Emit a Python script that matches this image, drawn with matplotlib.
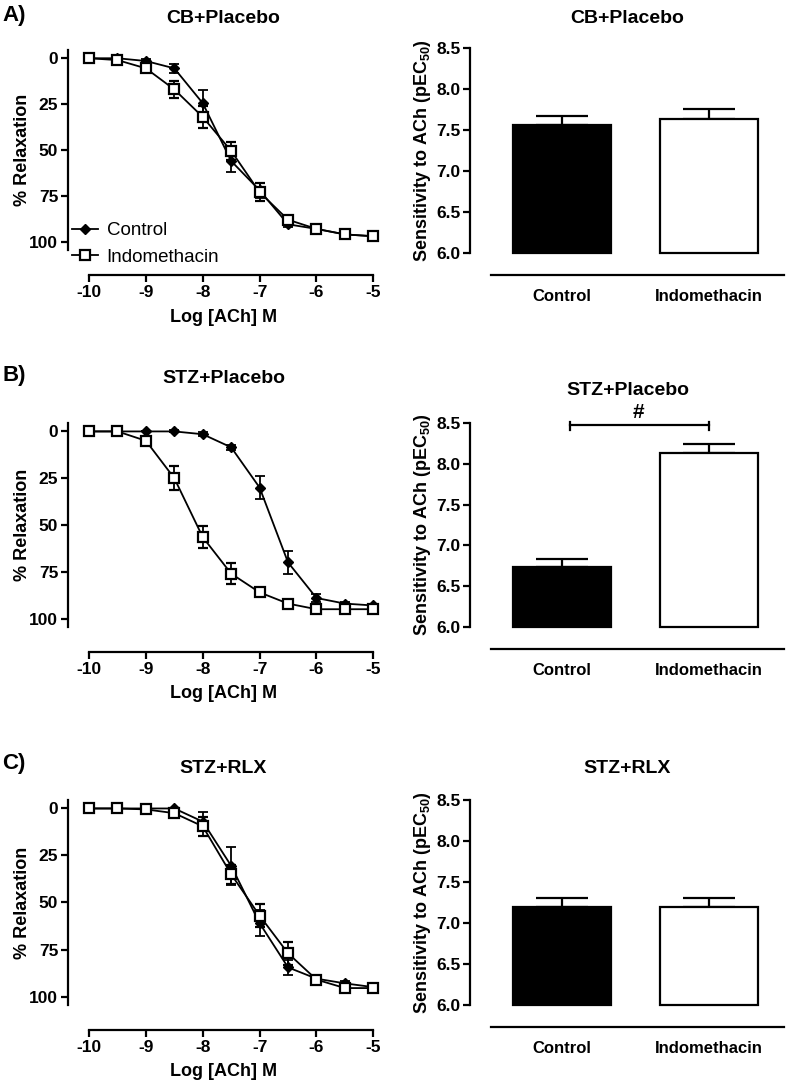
import matplotlib
matplotlib.use("Agg")
import matplotlib.pyplot as plt
from matplotlib.lines import Line2D

plt.rcParams['font.family'] = ['Liberation Sans', 'DejaVu Sans']
plt.rcParams['mathtext.fontset'] = 'custom'
plt.rcParams['mathtext.rm'] = 'Liberation Sans:bold'
plt.rcParams['mathtext.bf'] = 'Liberation Sans:bold'

# ---------------- data ----------------
log_ach = [-10, -9.5, -9, -8.5, -8, -7.5, -7, -6.5, -6, -5.5, -5]

panel_labels = ["A)", "B)", "C)"]
titles = ["CB+Placebo", "STZ+Placebo", "STZ+RLX"]

# Concentration-response (% relaxation)
a_ctrl = [0, 0, 1.5, 5.5, 24.5, 56, 72, 90.5, 93, 96, 97]
a_ctrl_err = [0, 0, 1, 2.5, 7, 6, 4, 1.5, 1, 1, 1]
a_indo = [0, 1, 5.5, 17, 32, 50.5, 73, 88, 93, 96, 97]
a_indo_err = [0, 0, 2, 4.5, 6, 5, 5, 2, 1, 1, 1]

b_ctrl = [0, 0, 0, 0, 1.5, 8.5, 30, 70, 89, 92, 93]
b_ctrl_err = [0, 0, 0, 0.5, 1, 1.5, 6, 6, 2, 1, 1]
b_indo = [0, 0, 5, 25, 56.5, 76, 86, 92, 95, 95, 95]
b_indo_err = [0, 0, 1.5, 6.5, 6, 5.5, 1.5, 1, 1, 1, 1]

c_ctrl = [0, 0, 0, 0, 7, 30.5, 61, 84.5, 90.5, 93, 95]
c_ctrl_err = [0, 0, 0, 0.5, 5, 10, 7, 4, 1.5, 1, 1]
c_indo = [0, 0, 0.5, 2.5, 9.5, 35, 57, 77, 91, 95.5, 95.5]
c_indo_err = [0, 0, 1, 1, 5, 5, 6, 6, 1.5, 1, 1]

curves = [(a_ctrl, a_ctrl_err, a_indo, a_indo_err),
          (b_ctrl, b_ctrl_err, b_indo, b_indo_err),
          (c_ctrl, c_ctrl_err, c_indo, c_indo_err)]

# pEC50 bars
groups = ["Control", "Indomethacin"]
pec50_a = [7.56, 7.63]
pec50_a_err = [0.11, 0.13]
pec50_b = [6.74, 8.13]
pec50_b_err = [0.09, 0.11]
pec50_c = [7.19, 7.19]
pec50_c_err = [0.12, 0.12]
bars = [(pec50_a, pec50_a_err), (pec50_b, pec50_b_err), (pec50_c, pec50_c_err)]
bar_base = 6.0

yticks_curve = [0, 25, 50, 75, 100]
yticks_bar = [6.0, 6.5, 7.0, 7.5, 8.0, 8.5]

# ---------------- layout (pixels) ----------------
W, H = 787, 1081
fig = plt.figure(figsize=(W / 100, H / 100), dpi=100)


def rect(x0, x1, y0, y1):
    return [x0 / W, 1 - y1 / H, (x1 - x0) / W, (y1 - y0) / H]


LX0, LX1 = 68, 379
RX0, RX1 = 470, 785
left_y = [(50, 250), (423, 627), (800, 1005)]
right_y = [(48, 253), (423, 627), (800, 1005)]
left_title_y = [15, 375, 765]
right_title_y = [15, 387, 765]
panel_label_y = [15, 375, 763]

TICKFS = 12.5
LABFS = 13
LW = 1.6

for i in range(3):
    # ---------- curve panel ----------
    ax = fig.add_axes(rect(LX0, LX1, *left_y[i]))
    ah = left_y[i][1] - left_y[i][0]
    ctrl, ctrl_e, indo, indo_e = curves[i]
    ax.errorbar(log_ach, indo, yerr=indo_e, color='black', lw=1.3, marker='s',
                ms=6.5, mfc='white', mec='black', mew=1.6, capsize=3.5, elinewidth=1.3,
                capthick=1.3, zorder=3, label='Indomethacin')
    ax.errorbar(log_ach, ctrl, yerr=ctrl_e, color='black', lw=1.3, marker='D',
                ms=5, mfc='black', mec='black', capsize=3.5, elinewidth=1.3,
                capthick=1.3, zorder=2, label='Control')
    ax.set_xlim(-10.37, -4.9)
    ax.set_ylim(104.5, -4.5)
    ax.set_yticks(yticks_curve)
    ax.set_xticks([-10, -9, -8, -7, -6, -5])
    ax.set_xticklabels(['-10', '-9', '-8', '-7', '-6', '-5'])
    for s in ['top', 'right']:
        ax.spines[s].set_visible(False)
    ax.spines['left'].set_linewidth(LW)
    ax.spines['bottom'].set_linewidth(LW)
    ax.spines['bottom'].set_position(('outward', 18))
    ax.spines['bottom'].set_bounds(-10, -5)
    ax.tick_params(width=LW, length=5, labelsize=TICKFS, pad=2)
    for lab in ax.get_xticklabels() + ax.get_yticklabels():
        lab.set_fontweight('bold')
    ax.set_xlabel('Log [ACh] M', fontsize=LABFS, fontweight='bold')
    ax.xaxis.set_label_coords(0.5, -67 / ah)
    ax.xaxis.label.set_va('center')
    ax.set_ylabel('% Relaxation', fontsize=LABFS, fontweight='bold')
    ax.yaxis.set_label_coords(-(LX0 - 23) / (LX1 - LX0), 0.5)
    ax.yaxis.label.set_va('center')
    ax.set_title(titles[i], fontsize=14, fontweight='bold', pad=0,
                 y=1 + (left_y[i][0] - left_title_y[i] - 8) / ah)
    fig.text(2 / W, 1 - panel_label_y[i] / H, panel_labels[i], fontsize=16,
             fontweight='bold', va='center', ha='left')
    if i == 0:
        h_c = Line2D([], [], color='black', lw=1.3, marker='D', ms=5, mfc='black')
        h_i = Line2D([], [], color='black', lw=1.3, marker='s', ms=6.5, mfc='white', mew=1.6)
        ax.legend([h_c, h_i], ['Control', 'Indomethacin'], loc='upper left',
                  bbox_to_anchor=((72 - LX0) / (LX1 - LX0), (250 - 222) / ah),
                  frameon=False, fontsize=13.5,
                  handlelength=1.4, handletextpad=0.45, labelspacing=0.5,
                  borderpad=0, borderaxespad=0)

    # ---------- bar panel ----------
    bx = fig.add_axes(rect(RX0, RX1, *right_y[i]))
    bh = right_y[i][1] - right_y[i][0]
    vals, errs = bars[i]
    xs = list(range(len(groups)))
    bx.bar(xs, [v - bar_base for v in vals], width=0.67, bottom=bar_base,
           color=['black', 'white'], edgecolor='black', linewidth=LW, zorder=2,
           clip_on=False)
    bx.errorbar(xs, vals, yerr=[[0] * len(errs), errs], fmt='none', ecolor='black',
                elinewidth=LW, capsize=19, capthick=LW, zorder=1)
    bx.set_ylim(6.0, 8.5)
    bx.set_xlim(-0.63, 1.52)
    bx.set_yticks(yticks_bar)
    bx.set_yticklabels([f'{t:.1f}' for t in yticks_bar])
    bx.set_xticks(xs)
    bx.set_xticklabels(groups)
    for s in ['top', 'right']:
        bx.spines[s].set_visible(False)
    bx.spines['left'].set_linewidth(LW)
    bx.spines['bottom'].set_linewidth(LW)
    bx.spines['bottom'].set_position(('outward', 16))
    bx.spines['bottom'].set_bounds(-0.49, 1.51)
    bx.tick_params(axis='y', width=LW, length=5, labelsize=TICKFS, pad=2)
    bx.tick_params(axis='x', length=0, labelsize=12, pad=10)
    for lab in bx.get_yticklabels() + bx.get_xticklabels():
        lab.set_fontweight('bold')
    bx.set_ylabel('Sensitivity to ACh (pEC$_{50}$)', fontsize=LABFS, fontweight='bold')
    bx.yaxis.set_label_coords(-(RX0 - 423) / (RX1 - RX0), 0.5)
    bx.yaxis.label.set_va('center')
    bx.set_title(titles[i], fontsize=14, fontweight='bold', pad=0,
                 y=1 + (right_y[i][0] - right_title_y[i] - 8) / bh)
    if i == 1:
        yb = 8.47
        bx.plot([0.05, 1.0], [yb, yb], color='black', lw=LW, clip_on=False)
        bx.plot([0.05, 0.05], [yb - 0.06, yb + 0.04], color='black', lw=LW, clip_on=False)
        bx.plot([1.0, 1.0], [yb - 0.06, yb + 0.04], color='black', lw=LW, clip_on=False)
        bx.text(0.52, yb + 0.04, '#', ha='center', va='bottom', fontsize=15,
                fontweight='bold', clip_on=False)

fig.savefig('out.png', dpi=100)
